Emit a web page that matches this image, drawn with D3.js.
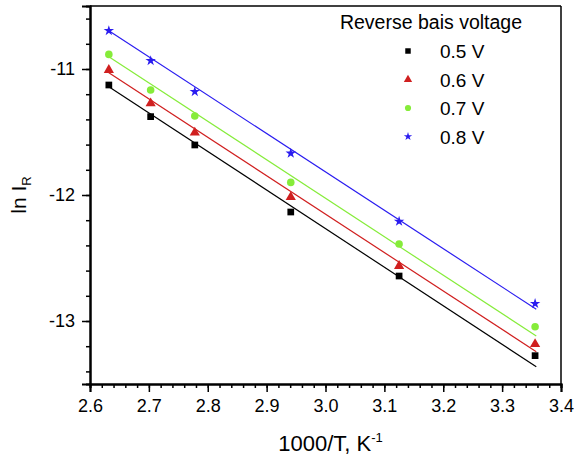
<!DOCTYPE html>
<html>
<head>
<meta charset="utf-8">
<script src="https://cdn.jsdelivr.net/npm/d3@7"></script>
<style>
body { margin: 0; background: #fff; }
text { font-family: Arial, "Liberation Sans", sans-serif; fill: #000; }
</style>
</head>
<body>
<svg id="canvas" width="574" height="459"></svg>
<script>
// 1000/T values (T = 380, 370, 360, 340, 320, 298 K)
let invT = [2.632, 2.703, 2.778, 2.941, 3.125, 3.356]

// ln I_R for each reverse bias voltage
let v05 = [-11.127, -11.378, -11.603, -12.135, -12.643, -13.275]
let v06 = [-11.008, -11.272, -11.505, -12.016, -12.563, -13.183]
let v07 = [-10.884, -11.167, -11.373, -11.900, -12.389, -13.045]
let v08 = [-10.696, -10.934, -11.180, -11.669, -12.209, -12.862]

// linear fit lines, start and end
let fitX = [2.632, 3.358]
let fit05 = [-11.140, -13.363]
let fit06 = [-11.029, -13.244]
let fit07 = [-10.902, -13.119]
let fit08 = [-10.696, -12.907]

let seriesNames = ['0.5 V', '0.6 V', '0.7 V', '0.8 V']
let legendTitle = 'Reverse bais voltage'

let xTicks = [2.6, 2.7, 2.8, 2.9, 3.0, 3.1, 3.2, 3.3, 3.4]
let yTicks = [-13, -12, -11]

let colors = ['#000000', '#d01f1f', '#86ec3a', '#2a1cf0']
let shapes = [d3.symbolSquare, d3.symbolTriangle, d3.symbolCircle, d3.symbolStar]

let width = 574
let height = 459
let margin = {left: 90, right: 13, top: 6, bottom: 75}

let canvas = d3.select('#canvas')

let xScale = d3.scaleLinear().domain([2.6, 3.4]).range([margin.left, width - margin.right])
let yScale = d3.scaleLinear().domain([-13.5, -10.5]).range([height - margin.bottom, margin.top])

let series = [
    {name: seriesNames[0], values: v05, fit: fit05},
    {name: seriesNames[1], values: v06, fit: fit06},
    {name: seriesNames[2], values: v07, fit: fit07},
    {name: seriesNames[3], values: v08, fit: fit08}
]

// minor ticks
let xMinor = d3.range(0, 41).map(i => 2.6 + i * 0.02)
let yMinor = d3.range(0, 16).map(i => -13.4 + i * 0.2)

let drawAxes = () => {
    let bottom = height - margin.bottom

    canvas.append('g')
        .attr('transform', 'translate(0,' + bottom + ')')
        .call(d3.axisBottom(xScale).tickValues(xMinor).tickSize(4).tickFormat(''))
    canvas.append('g')
        .attr('class', 'xmajor')
        .attr('transform', 'translate(0,' + bottom + ')')
        .call(d3.axisBottom(xScale).tickValues(xTicks).tickSize(8).tickPadding(7).tickFormat(d3.format('.1f')))

    canvas.append('g')
        .attr('transform', 'translate(' + margin.left + ',0)')
        .call(d3.axisLeft(yScale).tickValues(yMinor).tickSize(4).tickFormat(''))
    canvas.append('g')
        .attr('class', 'ymajor')
        .attr('transform', 'translate(' + margin.left + ',0)')
        .call(d3.axisLeft(yScale).tickValues(yTicks).tickSize(8).tickPadding(7).tickFormat(d3.format('d')))

    canvas.selectAll('.domain').attr('stroke-width', 2).attr('stroke', '#000')
    canvas.selectAll('.tick line').attr('stroke-width', 1.5).attr('stroke', '#000')
    canvas.selectAll('.tick text')
        .style('font-size', '18px')
        .style('font-family', 'Arial, "Liberation Sans", sans-serif')
        .text(function () { return d3.select(this).text().replace('−', '-') })

    // top and right frame
    canvas.append('line')
        .attr('x1', margin.left).attr('x2', width - margin.right)
        .attr('y1', margin.top).attr('y2', margin.top)
        .attr('stroke', '#000').attr('stroke-width', 1.5)
    canvas.append('line')
        .attr('x1', width - margin.right).attr('x2', width - margin.right)
        .attr('y1', margin.top).attr('y2', bottom)
        .attr('stroke', '#000').attr('stroke-width', 1.5)

    // axis titles
    let xt = canvas.append('text')
        .attr('x', (margin.left + width - margin.right) / 2 + 5)
        .attr('y', 451)
        .attr('text-anchor', 'middle')
        .style('font-size', '22px')
    xt.append('tspan').text('1000/T, K')
    xt.append('tspan').attr('dy', -9).style('font-size', '13px').text('-1')

    let yt = canvas.append('text')
        .attr('transform', 'translate(26,' + (margin.top + bottom) / 2 + ') rotate(-90)')
        .attr('text-anchor', 'middle')
        .style('font-size', '21px')
    yt.append('tspan').text('ln I')
    yt.append('tspan').attr('dy', 5).style('font-size', '13px').text('R')
}

let drawData = () => {
    let line = d3.line()
        .x(d => xScale(d[0]))
        .y(d => yScale(d[1]))

    series.forEach((s, i) => {
        canvas.append('path')
            .datum(fitX.map((x, j) => [x, s.fit[j]]))
            .attr('d', line)
            .attr('fill', 'none')
            .attr('stroke', colors[i])
            .attr('stroke-width', 1.2)

        canvas.selectAll('.pt' + i)
            .data(invT.map((x, j) => [x, s.values[j]]))
            .enter()
            .append('path')
            .attr('class', 'pt' + i)
            .attr('d', d3.symbol().type(shapes[i]).size(i == 3 ? 34 : 45))
            .attr('transform', d => 'translate(' + xScale(d[0]) + ',' + yScale(d[1]) + ')')
            .attr('fill', colors[i])
    })
}

let drawLegend = () => {
    canvas.append('text')
        .attr('x', 431)
        .attr('y', 29)
        .attr('text-anchor', 'middle')
        .style('font-size', '19.5px')
        .text(legendTitle)

    let rows = [51, 79.5, 108, 136.5]
    series.forEach((s, i) => {
        canvas.append('path')
            .attr('d', d3.symbol().type(shapes[i]).size(i == 3 ? 22 : 30))
            .attr('transform', 'translate(408,' + rows[i] + ')')
            .attr('fill', colors[i])
        canvas.append('text')
            .attr('x', 440)
            .attr('y', rows[i] + 7)
            .style('font-size', '19px')
            .text(s.name)
    })
}

drawAxes()
drawData()
drawLegend()
</script>
</body>
</html>
